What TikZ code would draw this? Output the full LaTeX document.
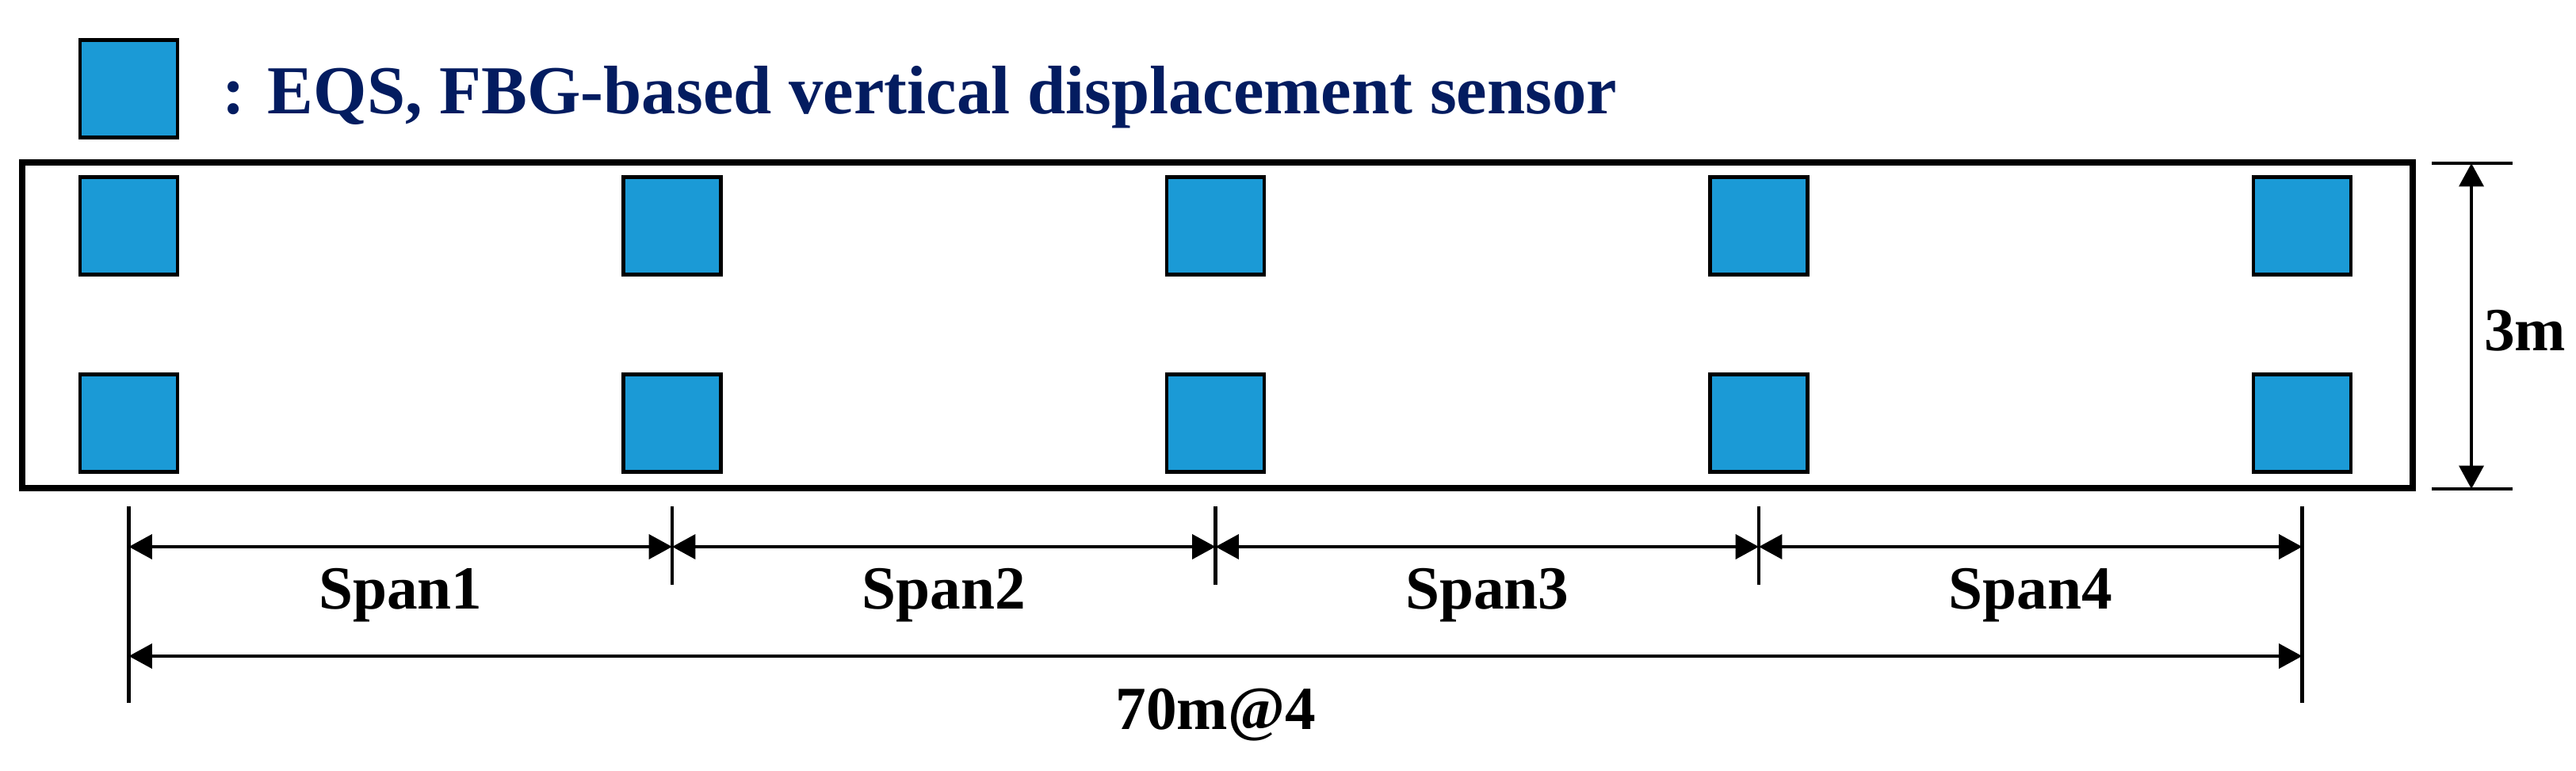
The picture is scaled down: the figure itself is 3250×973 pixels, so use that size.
\documentclass[tikz,border=0pt]{standalone}
\usepackage{fontspec}
\setmainfont{Liberation Serif}
\usetikzlibrary{arrows.meta}
\definecolor{eqsblue}{HTML}{1B9AD6}
\definecolor{legendnavy}{HTML}{031C60}
\tikzset{
  sensor/.style={draw=black, line width=3.4pt, fill=eqsblue, minimum size=92pt, inner sep=0pt, outer sep=0pt},
  extline/.style={line width=3.4pt},
  dimline/.style={line width=3.4pt, {Triangle[length=22pt,width=23pt]}-{Triangle[length=22pt,width=23pt]}},
  dimlabel/.style={font=\fontsize{58}{60}\selectfont\bfseries, inner sep=0pt},
  legendtext/.style={font=\fontsize{65}{67}\selectfont\bfseries, text=legendnavy, inner sep=0pt},
}

\begin{document}
\begin{tikzpicture}[x=0.75pt,y=0.75pt,yscale=-1,xscale=1]
\useasboundingbox (0,0) rectangle (3250,973);

% Legend
\node[sensor] (legbox) at (162.5,112) {};
\node[legendtext, anchor=base west] (legtext) at (280,144) {: EQS, FBG-based vertical displacement sensor};

%Shape: Rectangle [deck]
\draw[line width=6pt] (28,205) rectangle (3044,616);

% Sensors and dimension points
\foreach \i/\x in {1/162.5,2/848,3/1533.5,4/2219,5/2904.5}{
  \node[sensor] (top\i) at (\x,285) {};
  \node[sensor] (bot\i) at (\x,534) {};
  \coordinate (ext\i) at (\x,639);
  \coordinate (spn\i) at (\x,690);
  \coordinate (tot\i) at (\x,828);
  \coordinate (exs\i) at (\x,738);
  \coordinate (exl\i) at (\x,887);
}

% Extension lines
\draw[extline] (ext1) -- (exl1);
\draw[extline] (ext5) -- (exl5);
\foreach \i in {2,3,4}
  \draw[extline] (ext\i) -- (exs\i);

% Span dimensions
\foreach \i/\j in {1/2,2/3,3/4,4/5}
  \draw[dimline] (spn\i) -- node[dimlabel, anchor=base, yshift=-58.5pt] (span\i) {Span\i} (spn\j);
\draw[dimline] (tot1) -- node[dimlabel, anchor=base, yshift=-69pt] (total) {70m@4} (tot5);

% Width dimension
\coordinate (wtop) at (3118,206);
\coordinate (wbot) at (3118,617);
\coordinate (wtopl) at (3068,206);
\coordinate (wtopr) at (3170,206);
\coordinate (wbotl) at (3068,617);
\coordinate (wbotr) at (3170,617);
\draw[extline] (wtopl) -- (wtopr);
\draw[extline] (wbotl) -- (wbotr);
\draw[dimline] (wtop) -- node[dimlabel, anchor=base west, xshift=10.5pt, yshift=-22.9pt] (width) {3m} (wbot);

\end{tikzpicture}
\end{document}
